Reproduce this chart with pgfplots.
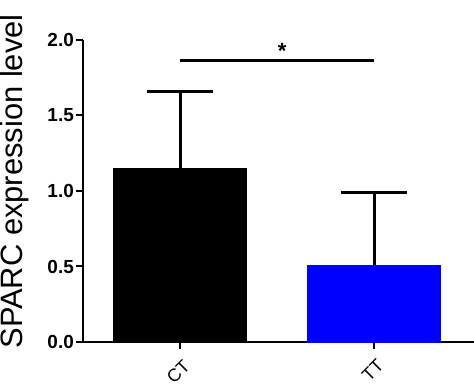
\documentclass[border=0pt]{standalone}
\usepackage{fontspec}
\setmainfont{Liberation Sans}
\usepackage{pgfplots}
\pgfplotsset{compat=1.18}
\begin{document}
\begin{tikzpicture}
\begin{axis}[
  at={(83bp,45bp)}, anchor=south west,
  scale only axis, width=391bp, height=302bp,
  xmin=-0.5, xmax=1.515, ymin=0, ymax=2,
  axis x line*=bottom, axis y line*=left,
  axis line style={line width=2bp, black},
  ytick={0,0.5,1,1.5,2},
  yticklabel style={font=\bfseries\fontsize{19}{19}\selectfont, inner sep=2bp,
    /pgf/number format/fixed, /pgf/number format/fixed zerofill, /pgf/number format/precision=1},
  xtick={0,1}, xticklabels={CT,TT},
  xticklabel style={rotate=45, anchor=north east, font=\fontsize{18}{18}\selectfont, inner sep=1bp, yshift=-7bp, xshift=-4bp},
  /pgf/number format/assume math mode=true,
  tick style={line width=2bp, black}, major tick length=7bp, tick align=outside,
  ybar, bar width=133bp,
  clip=false,
]
\addplot[fill=black, draw=black, bar shift=0pt,
  error bars/.cd, y dir=plus, y explicit,
  error bar style={line width=3bp, black},
  error mark options={rotate=90, line width=3bp, mark size=33bp, black}]
  coordinates {(0,1.15) +- (0,0.51)};
\addplot[fill=blue, draw=blue, bar shift=0pt,
  error bars/.cd, y dir=plus, y explicit,
  error bar style={line width=3bp, black},
  error mark options={rotate=90, line width=3bp, mark size=33bp, black}]
  coordinates {(1,0.51) +- (0,0.477)};
\addplot[sharp plot, black, line width=3.5bp, mark=none, forget plot] coordinates {(0,1.863) (1,1.863)};
\node[font=\bfseries\fontsize{22}{22}\selectfont] at (axis cs:0.526,1.93) {*};
\end{axis}
\node[rotate=90, font=\fontsize{31}{31}\selectfont] at (15bp,205.5bp) {SPARC expression level};
\pgfresetboundingbox
\path (0,0) rectangle (474bp,387bp);
\end{tikzpicture}
\end{document}
